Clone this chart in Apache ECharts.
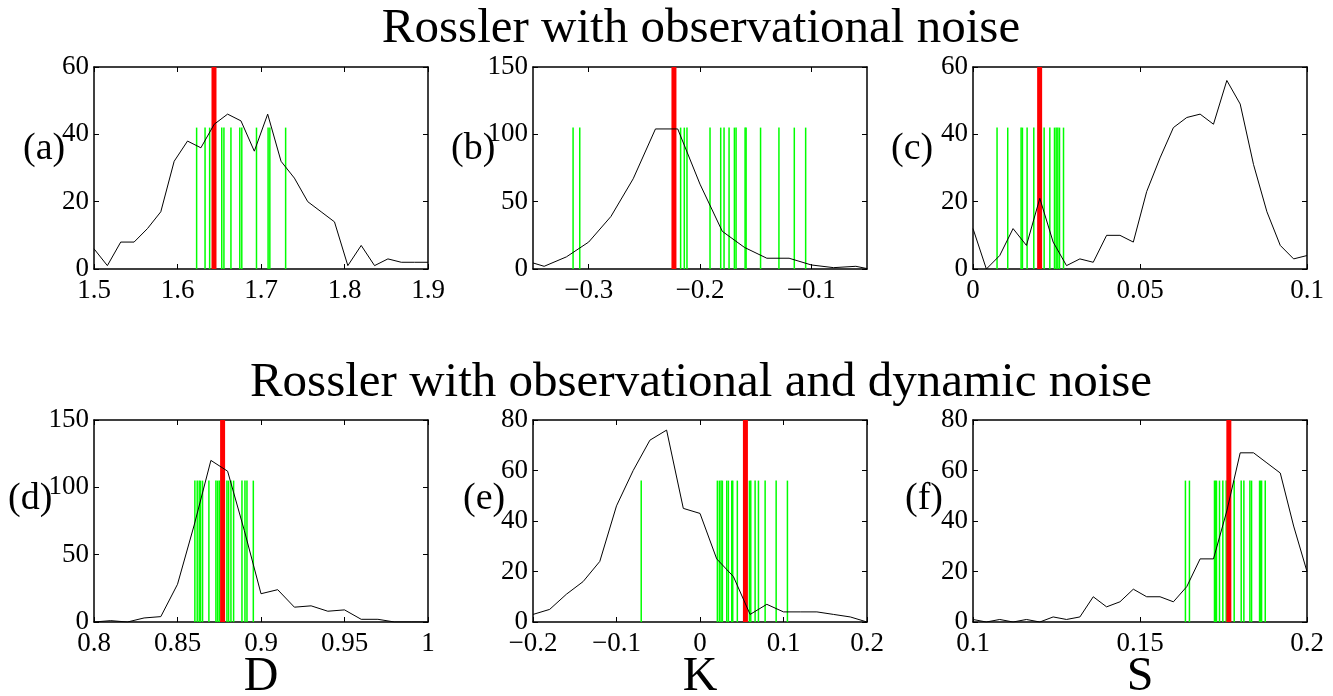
<!DOCTYPE html>
<html>
<head>
<meta charset="utf-8">
<script src="https://cdn.jsdelivr.net/npm/echarts@6.0.0/dist/echarts.min.js"></script>
<style>
html,body{margin:0;padding:0;background:#fff;}
#chart{width:1333px;height:696px;}
</style>
</head>
<body>
<div id="chart"></div>
<script>
// ---------------- DATA ----------------
// Panel (a): D, observational noise
const aBinX = [1.5, 1.516, 1.532, 1.548, 1.564, 1.58, 1.596, 1.612, 1.628, 1.644, 1.66, 1.676, 1.692, 1.708, 1.724, 1.74, 1.756, 1.772, 1.788, 1.804, 1.82, 1.836, 1.852, 1.868, 1.884, 1.9];
const aCount = [6, 1, 8, 8, 12, 17, 32, 38, 36, 43, 46, 44, 35, 46, 32, 27, 20, 17, 14, 1, 7, 1, 3, 2, 2, 2];
const aSurr = [1.6229, 1.6330, 1.6385, 1.6530, 1.6556, 1.6640, 1.6746, 1.6770, 1.6946, 1.7085, 1.7106, 1.7295];
const aOrig = 1.6437;
const aSurrHeight = 42;
const aXTicks = [1.5, 1.6, 1.7, 1.8, 1.9];
const aYTicks = [0, 20, 40, 60];

// Panel (b): K, observational noise
const bBinX = [-0.35, -0.34, -0.32, -0.30, -0.28, -0.26, -0.24, -0.22, -0.20, -0.18, -0.16, -0.14, -0.12, -0.10, -0.08, -0.06, -0.05];
const bCount = [4.5, 2, 9, 20, 39, 67, 104, 104, 63, 28, 16, 8, 8, 3, 1, 2, 0.3];
const bSurr = [-0.314, -0.308, -0.2174, -0.2141, -0.2117, -0.191, -0.1814, -0.1784, -0.1739, -0.1691, -0.1676, -0.1595, -0.1586, -0.1456, -0.1291, -0.1153, -0.1051];
const bOrig = -0.2234;
const bSurrHeight = 105;
const bXTicks = [-0.3, -0.2, -0.1];
const bYTicks = [0, 50, 100, 150];

// Panel (c): S, observational noise
const cBinX = [0, 0.004, 0.008, 0.012, 0.016, 0.02, 0.024, 0.028, 0.032, 0.036, 0.04, 0.044, 0.048, 0.052, 0.056, 0.06, 0.064, 0.068, 0.072, 0.076, 0.08, 0.084, 0.088, 0.092, 0.096, 0.1];
const cCount = [12, 0, 4, 12, 7, 21, 8, 1, 3, 2, 10, 10, 8, 23, 33, 42, 45, 46, 43, 56, 49, 31, 17, 7, 3, 4];
const cSurr = [0.0072, 0.0104, 0.0144, 0.0148, 0.0162, 0.0182, 0.0213, 0.0230, 0.0244, 0.0249, 0.0254, 0.0259, 0.0271];
const cOrig = 0.01995;
const cSurrHeight = 42;
const cXTicks = [0, 0.05, 0.1];
const cYTicks = [0, 20, 40, 60];

// Panel (d): D, observational and dynamic noise
const dBinX = [0.80, 0.81, 0.82, 0.83, 0.84, 0.85, 0.86, 0.87, 0.88, 0.89, 0.90, 0.91, 0.92, 0.93, 0.94, 0.95, 0.96, 0.97, 0.98, 0.99, 1.00];
const dCount = [0, 1, 0, 3, 4, 28, 72, 120, 112, 68, 21, 24, 11, 12, 8, 9, 2, 2, 0, 0, 0];
const dSurr = [0.8604, 0.8618, 0.8630, 0.8638, 0.8650, 0.8688, 0.8730, 0.8740, 0.8750, 0.8796, 0.8806, 0.8820, 0.8836, 0.8886, 0.8904, 0.8916, 0.8954];
const dOrig = 0.877;
const dSurrHeight = 105;
const dXTicks = [0.8, 0.85, 0.9, 0.95, 1];
const dYTicks = [0, 50, 100, 150];

// Panel (e): K, observational and dynamic noise
const eBinX = [-0.2, -0.18, -0.16, -0.14, -0.12, -0.1, -0.08, -0.06, -0.04, -0.02, 0, 0.02, 0.04, 0.06, 0.08, 0.1, 0.12, 0.14, 0.16, 0.18, 0.2];
const eCount = [3, 5, 11, 16, 24, 46, 60, 72, 76, 45, 43, 25, 18, 3, 7, 4, 4, 4, 3, 2, 0];
const eSurr = [-0.0704, 0.0208, 0.0232, 0.0252, 0.0268, 0.032, 0.034, 0.038, 0.0392, 0.0447, 0.0592, 0.0608, 0.066, 0.070, 0.078, 0.0912, 0.1047];
const eOrig = 0.0544;
const eSurrHeight = 56;
const eXTicks = [-0.2, -0.1, 0, 0.1, 0.2];
const eYTicks = [0, 20, 40, 60, 80];

// Panel (f): S, observational and dynamic noise
const fBinX = [0.1, 0.104, 0.108, 0.112, 0.116, 0.12, 0.124, 0.128, 0.132, 0.136, 0.14, 0.144, 0.148, 0.152, 0.156, 0.16, 0.164, 0.168, 0.172, 0.176, 0.18, 0.184, 0.188, 0.192, 0.196, 0.2];
const fCount = [1, 0, 1, 0, 1, 0, 2, 1, 2, 10, 6, 8, 13, 10, 10, 8, 14, 25, 25, 44, 67, 67, 63, 59, 38, 20];
const fSurr = [0.1636, 0.1648, 0.1723, 0.1726, 0.1729, 0.1738, 0.1748, 0.1758, 0.1782, 0.1803, 0.1811, 0.1829, 0.1834, 0.1858, 0.1861, 0.1864, 0.1875];
const fOrig = 0.1766;
const fSurrHeight = 56;
const fXTicks = [0.1, 0.15, 0.2];
const fYTicks = [0, 20, 40, 60, 80];

const panelLabels = ['(a)', '(b)', '(c)', '(d)', '(e)', '(f)'];
const titles = ['Rossler with observational noise', 'Rossler with observational and dynamic noise'];
const xAxisNames = ['D', 'K', 'S'];

// ---------------- LAYOUT ----------------
const panels = [
  {bx: aBinX, by: aCount, surr: aSurr, orig: aOrig, sh: aSurrHeight, xt: aXTicks, yt: aYTicks},
  {bx: bBinX, by: bCount, surr: bSurr, orig: bOrig, sh: bSurrHeight, xt: bXTicks, yt: bYTicks},
  {bx: cBinX, by: cCount, surr: cSurr, orig: cOrig, sh: cSurrHeight, xt: cXTicks, yt: cYTicks},
  {bx: dBinX, by: dCount, surr: dSurr, orig: dOrig, sh: dSurrHeight, xt: dXTicks, yt: dYTicks},
  {bx: eBinX, by: eCount, surr: eSurr, orig: eOrig, sh: eSurrHeight, xt: eXTicks, yt: eYTicks},
  {bx: fBinX, by: fCount, surr: fSurr, orig: fOrig, sh: fSurrHeight, xt: fXTicks, yt: fYTicks}
];
const xRanges = [[1.5, 1.9], [-0.35, -0.05], [0, 0.1], [0.8, 1], [-0.2, 0.2], [0.1, 0.2]];
const colLefts = [94, 533, 973];
const rowTops = [67, 420];
const gridW = 334, gridH = 202;
const labelPos = [[23, 149], [451, 149], [891, 149], [8, 499], [463, 499], [905, 499]];

const FONT = 'Liberation Serif';
const fmt = v => (v < 0 ? '\u2212' + String(Math.abs(v)) : String(v));

const grids = [], xAxes = [], yAxes = [], series = [];

function vline(color, width) {
  return function (params, api) {
    const p0 = api.coord([api.value(0), 0]);
    const p1 = api.coord([api.value(0), api.value(1)]);
    return {type: 'line', shape: {x1: p0[0], y1: p0[1], x2: p1[0], y2: p1[1]},
      style: {stroke: color, lineWidth: width}};
  };
}

panels.forEach((p, i) => {
  const col = i % 3, row = Math.floor(i / 3);
  grids.push({left: colLefts[col], top: rowTops[row], width: gridW, height: gridH, containLabel: false});
  const xmin = xRanges[i][0], xmax = xRanges[i][1];
  const ymax = p.yt[p.yt.length - 1];
  const lineSt = {show: true, onZero: false, lineStyle: {color: '#000', width: 1.5}};
  xAxes.push({
    type: 'value', gridIndex: i, position: 'bottom', min: xmin, max: xmax,
    axisLine: lineSt, splitLine: {show: false},
    axisTick: {show: true, inside: true, length: 5, customValues: p.xt, lineStyle: {color: '#000'}},
    axisLabel: {show: true, customValues: p.xt, formatter: fmt, fontFamily: FONT, fontSize: 27, color: '#000', margin: 8, hideOverlap: false, showMinLabel: true, showMaxLabel: true}
  });
  xAxes.push({
    type: 'value', gridIndex: i, position: 'top', min: xmin, max: xmax,
    axisLine: lineSt, splitLine: {show: false},
    axisTick: {show: true, inside: true, length: 5, customValues: p.xt, lineStyle: {color: '#000'}},
    axisLabel: {show: false}
  });
  yAxes.push({
    type: 'value', gridIndex: i, position: 'left', min: 0, max: ymax,
    axisLine: lineSt, splitLine: {show: false},
    axisTick: {show: true, inside: true, length: 5, customValues: p.yt, lineStyle: {color: '#000'}},
    axisLabel: {show: true, customValues: p.yt, formatter: fmt, fontFamily: FONT, fontSize: 27, color: '#000', margin: 5, hideOverlap: false, showMinLabel: true, showMaxLabel: true}
  });
  yAxes.push({
    type: 'value', gridIndex: i, position: 'right', min: 0, max: ymax,
    axisLine: lineSt, splitLine: {show: false},
    axisTick: {show: true, inside: true, length: 5, customValues: p.yt, lineStyle: {color: '#000'}},
    axisLabel: {show: false}
  });
  series.push({
    type: 'custom', xAxisIndex: 2 * i, yAxisIndex: 2 * i, silent: true, z: 1,
    data: p.surr.map(x => [x, p.sh]), renderItem: vline('#00ff00', 1.5)
  });
  series.push({
    type: 'custom', xAxisIndex: 2 * i, yAxisIndex: 2 * i, silent: true, z: 2,
    data: [[p.orig, ymax]], renderItem: vline('#ff0000', 5)
  });
  series.push({
    type: 'line', xAxisIndex: 2 * i, yAxisIndex: 2 * i, silent: true, z: 3,
    data: p.bx.map((x, j) => [x, p.by[j]]), showSymbol: false, symbol: 'none',
    lineStyle: {color: '#000', width: 1}, clip: true
  });
});

const graphics = [];
const titleY = [29, 383];
titles.forEach((t, k) => {
  graphics.push({type: 'text', x: 701, y: titleY[k], silent: true,
    style: {text: t, font: '49px "Liberation Serif"', fill: '#000', textAlign: 'center', textVerticalAlign: 'middle'}});
});
xAxisNames.forEach((t, k) => {
  graphics.push({type: 'text', x: colLefts[k] + gridW / 2, y: 677, silent: true,
    style: {text: t, font: '48px "Liberation Serif"', fill: '#000', textAlign: 'center', textVerticalAlign: 'middle'}});
});
panelLabels.forEach((t, k) => {
  graphics.push({type: 'text', x: labelPos[k][0], y: labelPos[k][1], silent: true, z: 10,
    style: {text: t, font: '38px "Liberation Serif"', fill: '#000', textAlign: 'left', textVerticalAlign: 'middle'}});
});

const chart = echarts.init(document.getElementById('chart'), null, {renderer: 'canvas'});
chart.setOption({
  backgroundColor: '#ffffff',
  animation: false,
  grid: grids,
  xAxis: xAxes,
  yAxis: yAxes,
  series: series,
  graphic: graphics
});
</script>
</body>
</html>
